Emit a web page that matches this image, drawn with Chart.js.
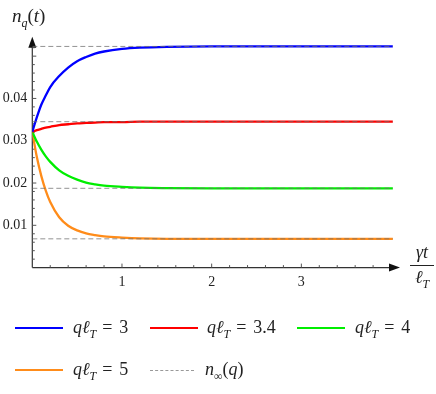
<!DOCTYPE html>
<html>
<head>
<meta charset="utf-8">
<script src="https://cdn.jsdelivr.net/npm/chart.js@4/dist/chart.umd.min.js"></script>
<style>
  html, body { margin: 0; padding: 0; background: #fff; }
  #wrap { position: relative; width: 436px; height: 394px; font-family: "Liberation Serif", serif; color: #222; }
  canvas { position: absolute; left: 0; top: 0; }
  .m { position: absolute; white-space: nowrap; font-size: 18px; line-height: 1; }
  .m i { font-style: italic; }
  .m sub { font-size: 12px; vertical-align: -5px; line-height: 0; }
  .m .eq { margin: 0 7px 0 6px; }
  .sw { position: absolute; width: 48px; height: 0; border-top: 2px solid; }
  .sw.dash { border-top: 1px dashed #999; width: 44px; }
  .frac { position: absolute; left: 410px; top: 243px; width: 24px; text-align: center; font-size: 18px; line-height: 1; }
  .frac .bar { border-top: 1px solid #222; margin: 4px 0 2px 0; }
  .frac sub { font-size: 12px; vertical-align: -5px; line-height: 0; }
</style>
</head>
<body>
<div id="wrap">
  <canvas id="chart" width="436" height="394"></canvas>

  <div class="m" style="left:12px; top:6px; font-size:19px;"><i>n</i><sub><i>q</i></sub>(<i>t</i>)</div>
  <div class="frac"><div><i>γt</i></div><div class="bar"></div><div><i>ℓ</i><sub><i>T</i></sub></div></div>

  <!-- legend -->
  <div class="sw" style="left:15px; top:327px; border-color:#0000ff;"></div>
  <div class="m" style="left:73px; top:318px;"><i>qℓ</i><sub><i>T</i></sub><span class="eq">=</span>3</div>
  <div class="sw" style="left:150px; top:327px; border-color:#ff0000;"></div>
  <div class="m" style="left:207px; top:318px;"><i>qℓ</i><sub><i>T</i></sub><span class="eq">=</span>3.4</div>
  <div class="sw" style="left:297px; top:327px; border-color:#00ee00;"></div>
  <div class="m" style="left:355px; top:318px;"><i>qℓ</i><sub><i>T</i></sub><span class="eq">=</span>4</div>
  <div class="sw" style="left:15px; top:369px; border-color:#ff8c1a;"></div>
  <div class="m" style="left:73px; top:360px;"><i>qℓ</i><sub><i>T</i></sub><span class="eq">=</span>5</div>
  <div class="sw dash" style="left:150px; top:370px;"></div>
  <div class="m" style="left:205px; top:360px;"><i>n</i><sub>∞</sub>(<i>q</i>)</div>
</div>

<script>
// time axis (γt/ℓT) and n_q(t) values
const times   = [0, 0.05, 0.1, 0.15, 0.2, 0.3, 0.4, 0.5, 0.6, 0.7, 0.8, 1.0, 1.2, 1.5, 2, 2.5, 3, 3.5, 4.02];
const nq3     = [0.0321, 0.0355, 0.0385, 0.0407, 0.0427, 0.0453, 0.0473, 0.0488, 0.0498, 0.0506, 0.0511, 0.0517, 0.0520, 0.0522, 0.0523, 0.0523, 0.0523, 0.0523, 0.0523];
const nq34    = [0.0321, 0.0325, 0.0328, 0.0331, 0.0333, 0.0337, 0.0339, 0.0341, 0.0342, 0.0343, 0.0344, 0.0344, 0.0345, 0.0345, 0.0345, 0.0345, 0.0345, 0.0345, 0.0345];
const nq4     = [0.0321, 0.0298, 0.0279, 0.0263, 0.0250, 0.0230, 0.0217, 0.0208, 0.0201, 0.0197, 0.0194, 0.0191, 0.0189, 0.0188, 0.01875, 0.01875, 0.01875, 0.01875, 0.01875];
const nq5     = [0.0321, 0.0262, 0.0217, 0.0182, 0.0155, 0.0119, 0.0099, 0.0088, 0.0081, 0.0077, 0.0074, 0.0071, 0.0069, 0.0068, 0.0068, 0.0068, 0.0068, 0.0068, 0.0068];
const nInf    = [0.0523, 0.0345, 0.01875, 0.0068];
const seriesLabels = ['qℓT = 3', 'qℓT = 3.4', 'qℓT = 4', 'qℓT = 5'];
const xTickValues = [1, 2, 3];
const yTickValues = [0.01, 0.02, 0.03, 0.04];

const colors = ['#0000ff', '#ff0000', '#00ee00', '#ff8c1a'];
const tEnd = times[times.length - 1];

const curveSets = [nq3, nq34, nq4, nq5].map((vals, i) => ({
  label: seriesLabels[i],
  data: times.map((t, j) => ({ x: t, y: vals[j] })),
  borderColor: colors[i],
  borderWidth: 2.3,
  pointRadius: 0,
  cubicInterpolationMode: 'monotone',
  fill: false,
  order: 2
}));

const asymSets = nInf.map(v => ({
  label: 'n∞(q)',
  data: [{ x: 0, y: v }, { x: tEnd, y: v }],
  borderColor: 'rgba(110,110,110,0.75)',
  borderWidth: 1,
  borderDash: [5, 3],
  pointRadius: 0,
  fill: false,
  order: 1
}));

// Mathematica style axes: arrows plus inward ticks
const axesPlugin = {
  id: 'mmaAxes',
  beforeDatasetsDraw(chart) {
    const { ctx, scales: { x, y } } = chart;
    const x0 = x.getPixelForValue(0), y0 = y.getPixelForValue(0);
    const xEnd = x.getPixelForValue(x.max), yEnd = y.getPixelForValue(y.max);
    ctx.save();
    ctx.strokeStyle = '#333';
    ctx.fillStyle = '#111';
    ctx.lineWidth = 1.2;

    ctx.beginPath();
    ctx.moveTo(x0, y0); ctx.lineTo(xEnd - 6, y0);
    ctx.moveTo(x0, y0); ctx.lineTo(x0, yEnd + 6);
    ctx.stroke();

    // arrow heads
    ctx.beginPath();
    ctx.moveTo(xEnd, y0); ctx.lineTo(xEnd - 11, y0 - 4); ctx.lineTo(xEnd - 11, y0 + 4); ctx.closePath();
    ctx.fill();
    ctx.beginPath();
    ctx.moveTo(x0, yEnd); ctx.lineTo(x0 - 4, yEnd + 11); ctx.lineTo(x0 + 4, yEnd + 11); ctx.closePath();
    ctx.fill();

    ctx.lineWidth = 1;
    ctx.strokeStyle = '#555';
    ctx.beginPath();
    for (let k = 1; k < 20; k++) {
      const px = x.getPixelForValue(k * 0.2);
      const len = k % 5 === 0 ? 4 : 2.5;
      ctx.moveTo(px, y0); ctx.lineTo(px, y0 - len);
    }
    for (let k = 1; k <= 26; k++) {
      const py = y.getPixelForValue(k * 0.002);
      const len = k % 5 === 0 ? 4 : 2.5;
      ctx.moveTo(x0, py); ctx.lineTo(x0 + len, py);
    }
    ctx.stroke();
    ctx.restore();
  }
};

new Chart(document.getElementById('chart'), {
  type: 'line',
  data: { datasets: [...curveSets, ...asymSets] },
  options: {
    responsive: false,
    animation: false,
    layout: { padding: { top: 36.7, right: 36, left: 0, bottom: 0 } },
    plugins: { legend: { display: false }, tooltip: { enabled: false } },
    scales: {
      x: {
        type: 'linear',
        min: 0,
        max: 4.1,
        grid: { display: false, drawTicks: false },
        border: { display: false },
        afterBuildTicks: s => { s.ticks = xTickValues.map(v => ({ value: v })); },
        afterFit: s => { s.height = 126.4; },
        ticks: {
          padding: 6,
          color: '#222',
          font: { family: 'Liberation Serif', size: 14 },
          maxRotation: 0,
          callback: v => String(v)
        }
      },
      y: {
        type: 'linear',
        min: 0,
        max: 0.0546,
        grid: { display: false, drawTicks: false },
        border: { display: false },
        afterBuildTicks: s => { s.ticks = yTickValues.map(v => ({ value: v })); },
        afterFit: s => { s.width = 32.3; },
        ticks: {
          padding: 5,
          color: '#222',
          font: { family: 'Liberation Serif', size: 14 },
          callback: v => v.toFixed(2)
        }
      }
    }
  },
  plugins: [axesPlugin]
});
</script>
</body>
</html>
